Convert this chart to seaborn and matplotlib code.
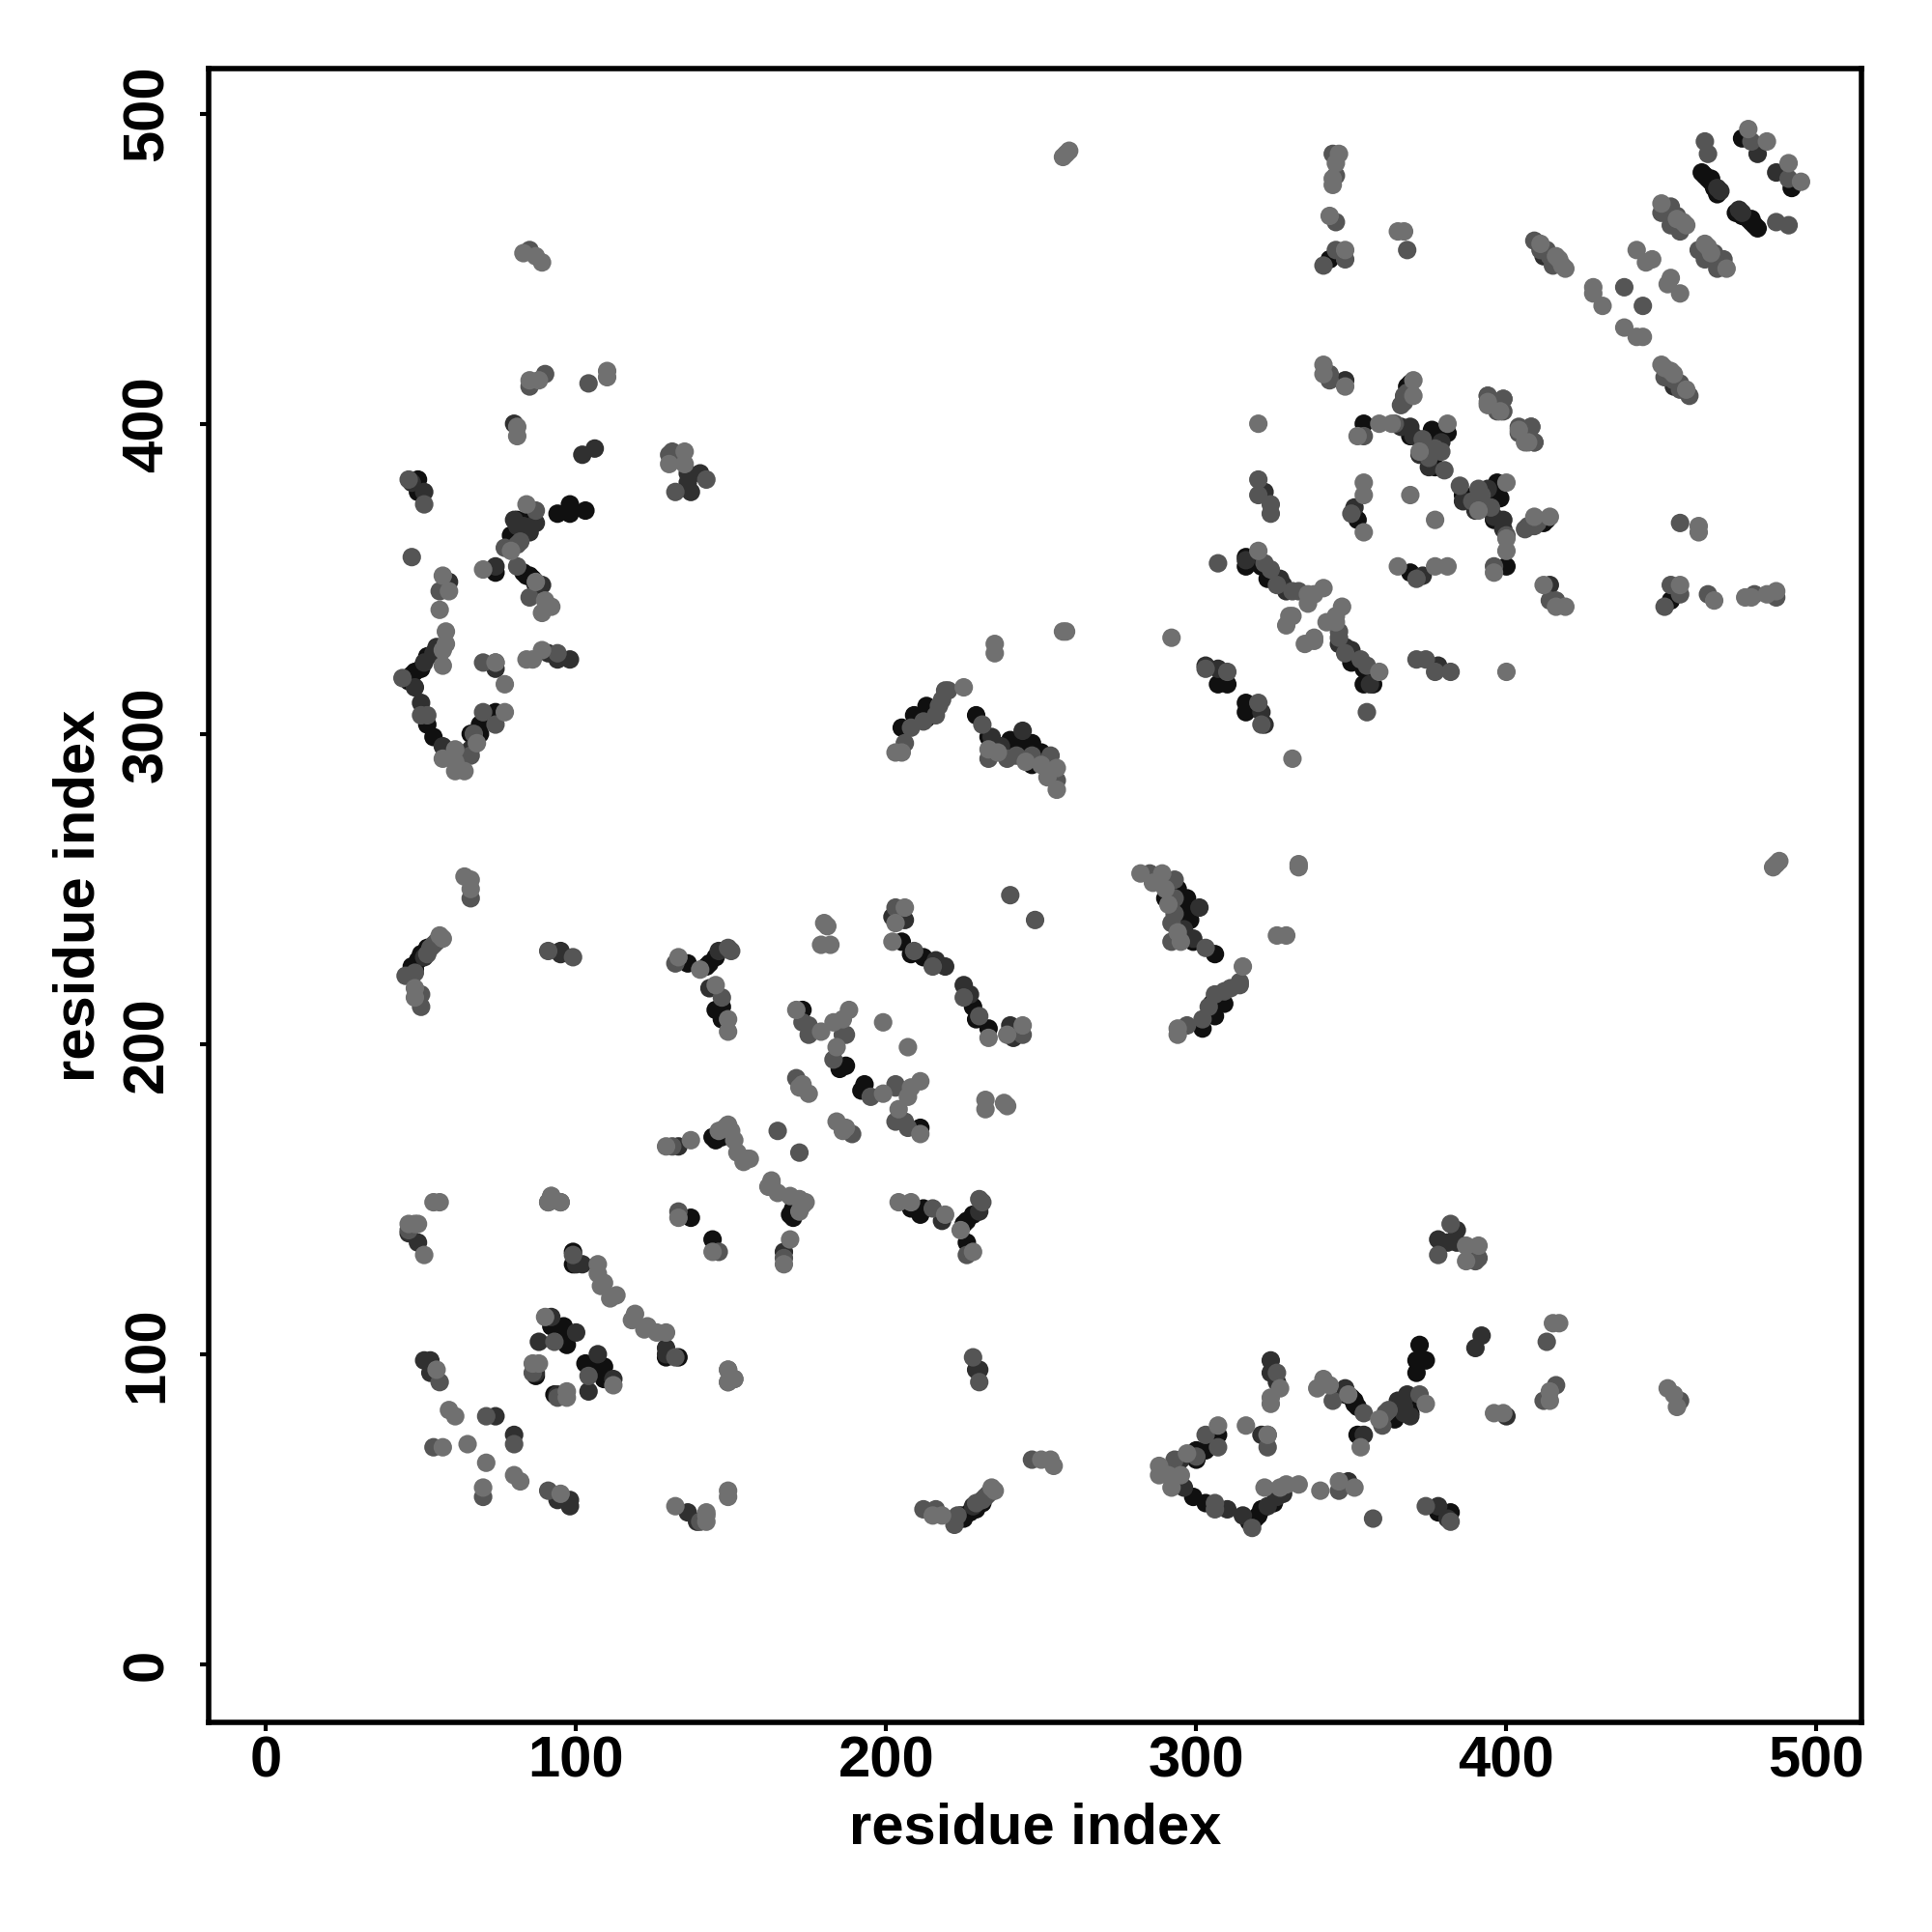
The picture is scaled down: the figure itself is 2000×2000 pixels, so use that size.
import matplotlib
matplotlib.use("Agg")
import matplotlib.pyplot as plt
import pandas as pd
import seaborn as sns

# residue contacts (i < j) read from the upper triangle, grouped by grey level
contacts_light = [
    (83,455),(87,454),(89,452),(85,414),(88,414),(110,417),(110,415),(81,399),(81,396),(130,387),(135,391),(135,387),
    (84,374),(79,359),(57,351),(59,346),(56,340),(70,353),(87,349),(90,343),(92,341),(89,339),
    (58,333),(58,329),(57,327),(57,322),(57,292),(61,295),(61,291),(61,288),(64,288),(68,297),(77,307),(77,316),
    (74,323),(84,324),(86,324),(89,327),(64,254),(66,253),(66,250),(56,235),(57,234),(48,218),(48,215),
    (133,228),(140,224),(145,219),(149,208),(149,204),
    (129,167),(137,169),(146,172),(149,174),(151,169),(152,165),(155,163),(154,162),(156,163),(150,172),(148,173),
    (56,149),(92,151),(91,149),(95,149),(48,142),(46,142),(49,142),(51,132),(133,144),(54,149),
    (107,129),(107,126),(109,123),(108,122),(111,118),(113,119),(90,112),(88,97),(86,97),
    (149,95),(151,92),(149,91),(55,95),(59,82),(61,80),(57,70),(65,71),
    (180,239),(181,238),(179,232),(182,232),(206,244),(203,239),(202,233),(171,211),(179,204),(183,207),(186,208),
    (188,211),(184,199),(199,207),(172,186),(175,184),(173,187),
    (235,329),(235,326),(258,333),(257,333),(292,331),(203,294),(205,294),(225,315),(233,295),(236,294),
    (245,291),(250,290),(252,286),(255,289),(255,282),
    (341,419),(341,416),(348,412),(370,414),(370,409),(394,407),(404,398),(406,394),(359,400),(352,396),(363,400),
    (372,391),(381,400),(354,381),(354,377),(369,377),(354,365),(320,400),(320,359),(336,345),(341,347),(338,345),
    (336,342),(330,338),(329,335),(331,338),
    (346,487),(345,484),(344,479),(344,477),(343,467),(348,456),(367,462),(365,462),(411,458),(417,453),(419,450),
    (428,444),(428,442),(431,438),(442,456),(445,452),(447,453),(450,471),(458,464),(478,495),(484,491),
    (258,487),(259,488),(257,486),(416,454),(418,451),(457,465),(455,466),
]
contacts_mid = [
    (85,456),(85,412),(90,416),(104,413),(130,390),(131,391),(142,382),(132,378),(46,382),(51,374),(87,372),(77,360),
    (81,361),(47,357),(56,346),(81,354),(85,344),(82,362),
    (44,318),(50,306),(52,306),(66,293),(67,300),(74,303),(70,307),(70,323),(74,323),(94,326),(66,247),
    (55,233),(53,231),(45,222),(52,229),(50,216),(50,212),(91,230),(99,228),(132,226),(149,231),(150,230),(147,215),
    (54,232),(48,223),(47,222),
    (46,140),(131,167),(133,146),(99,132),(93,104),(86,94),(56,91),(54,70),(71,80),
    (203,244),(209,230),(215,225),(187,203),(183,195),(165,172),(171,189),(175,206),(173,207),(175,203),(186,203),
    (206,297),(208,302),(216,306),(217,309),(219,314),(220,314),(231,303),(233,292),(239,292),(253,293),(255,285),(240,248),
    (303,321),(310,320),(247,293),(212,304),(218,311),(242,293),
    (343,416),(343,414),(367,408),(366,406),(394,409),(399,408),(399,404),(397,404),(408,399),(409,394),(354,396),(364,400),
    (373,395),(379,391),(380,385),(320,382),(320,377),(324,374),(324,371),(350,371),(307,355),(322,355),(324,353),(333,346),
    (377,392),(375,389),(367,407),(367,409),(368,410),(326,348),(331,346),
    (344,487),(345,480),(345,465),(341,451),(345,456),(348,453),(368,456),(409,459),(413,456),(414,454),(415,451),
    (438,444),(453,470),(450,468),(455,467),(453,464),(456,462),(464,491),(465,487),(479,491),(411,456),(451,470),
]
contacts_dark = [
    (80,400),(102,390),(106,392),(136,384),(140,384),(136,381),(137,378),(47,381),(51,378),(80,369),(81,367),(83,367),
    (85,365),(87,368),(59,349),(74,354),(89,348),
    (55,328),(54,326),(51,323),(48,315),(50,310),(57,296),(66,295),(74,321),(91,326),(94,324),(98,324),
    (95,229),(95,230),(146,230),(143,218),(46,139),(49,136),(133,167),(51,228),
    (92,112),(88,104),(100,107),(87,94),(102,129),(100,129),(51,98),(53,98),(53,94),(74,80),
    (202,241),(206,240),(216,227),(219,225),(234,299),(244,301),(303,322),(307,321),(237,296),
    (348,414),(322,378),(351,373),(369,399),(366,399),(372,390),(375,386),(379,394),(316,356),(327,350),(329,346),(370,396),
    (412,454),(468,476),(481,487),(469,475),(328,348),
]
contacts_black = [
    (49,382),(49,378),(81,369),(79,364),(84,369),(84,351),(86,350),(94,371),(98,374),(98,371),(103,372),(74,352),
    (82,365),(83,366),(84,367),(85,369),(86,370),(83,352),(85,351),(87,348),
    (47,319),(48,320),(50,321),(52,325),(46,317),(52,303),(54,299),(69,300),(69,303),(74,307),(66,300),
    (52,231),(50,229),(49,227),(47,225),(48,224),(136,226),(142,225),(143,226),(145,228),(145,211),(147,212),(147,208),
    (144,170),(145,169),(146,171),(147,170),(137,144),(99,133),(99,129),(92,109),(96,109),(97,106),(97,103),(87,93),
    (205,233),(208,229),(212,228),(173,211),(187,193),(185,192),
    (205,302),(209,306),(213,309),(213,305),(229,306),(233,299),(240,297),(243,297),(247,297),(247,290),(240,298),(244,297),(250,294),
    (307,316),(310,316),
    (354,400),(369,396),(376,397),(381,397),(377,386),(352,369),(323,350),(321,354),(316,357),(326,350),(324,351),(316,354),
    (378,396),(374,393),(376,392),(376,398),(368,412),(369,413),
    (343,453),(463,481),(465,479),(466,479),(468,474),(476,492),(464,480),(466,478),(467,476),
]

shades = {"black": "#101010", "dark": "#303030", "mid": "#555555", "light": "#707070"}
groups = [("black", contacts_black), ("dark", contacts_dark), ("mid", contacts_mid), ("light", contacts_light)]
ticks = [0, 100, 200, 300, 400, 500]

rows = []
for name, pairs in groups:
    for i, j in pairs:
        # contact maps are symmetric, each pair shows up on both sides
        rows.append((i, j, name))
        rows.append((j, i, name))
df = pd.DataFrame(rows, columns=["res_x", "res_y", "shade"])

sns.set_style("white")
plt.rcParams["font.family"] = ["Liberation Sans", "DejaVu Sans"]
plt.rcParams["font.weight"] = "bold"
plt.rcParams["text.color"] = "black"
plt.rcParams["axes.labelcolor"] = "black"
plt.rcParams["xtick.labelcolor"] = "black"
plt.rcParams["ytick.labelcolor"] = "black"

fig = plt.figure(figsize=(20, 20), dpi=100)
ax = fig.add_axes([0.108, 0.1085, 0.8555, 0.856])
sns.scatterplot(data=df, x="res_x", y="res_y", hue="shade", palette=shades, s=190,
                linewidth=0, legend=False, ax=ax)

ax.set_xlim(-18.5, 514.5)
ax.set_ylim(-18.7, 514.5)
ax.set_xticks(ticks)
ax.set_yticks(ticks)
ax.tick_params(axis="x", length=6.5, width=3, labelsize=43, pad=3, color="black", bottom=True)
ax.tick_params(axis="y", length=6.5, width=3, labelsize=43, pad=19, color="black", left=True)
for lab in ax.get_yticklabels():
    lab.set_rotation(90)
    lab.set_va("center")
for side in ax.spines.values():
    side.set_linewidth(4)
    side.set_color("black")

ax.set_xlabel("residue index", fontsize=43, fontweight="bold", va="center")
ax.set_ylabel("residue index", fontsize=43, fontweight="bold", va="center")
ax.xaxis.set_label_coords(0.5, -0.0645)
ax.yaxis.set_label_coords(-0.0785, 0.5)

fig.savefig("out.png", dpi=100, facecolor="white")
